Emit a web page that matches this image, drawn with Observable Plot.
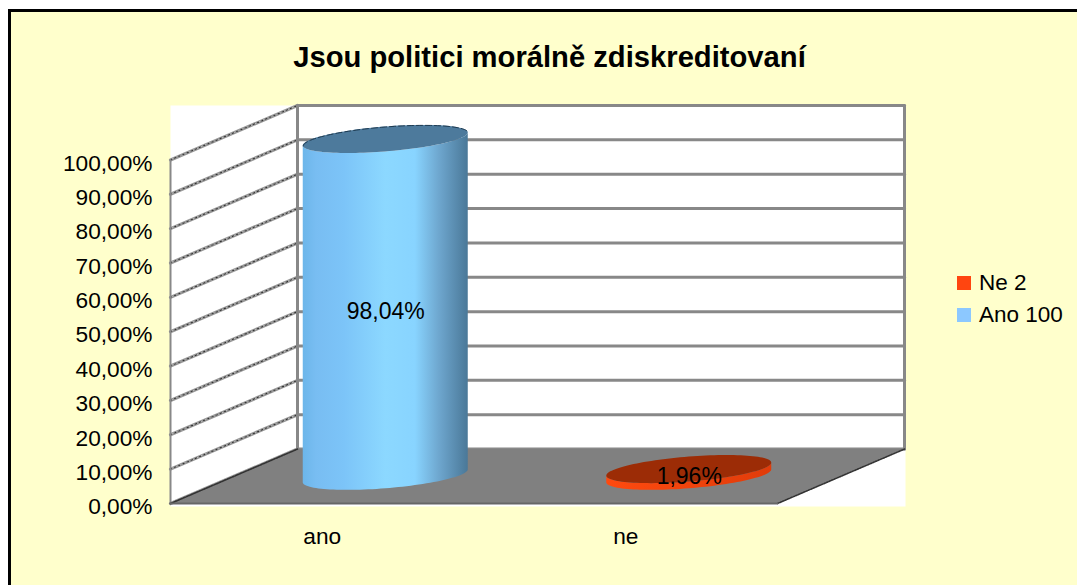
<!DOCTYPE html>
<html><head><meta charset="utf-8">
<script src="https://cdn.jsdelivr.net/npm/d3@7"></script>
<script src="https://cdn.jsdelivr.net/npm/@observablehq/plot@0.6"></script>
<style>
html,body{margin:0;padding:0;background:#fff;overflow:hidden}
#wrap{position:relative;width:1077px;height:585px;overflow:hidden;font-family:"Liberation Sans",Arial,sans-serif;color:#000}
#panel{position:absolute;left:8px;top:9px;width:1200px;height:700px;background:#ffffcc;border:3px solid #000;box-sizing:content-box}
#title{position:absolute;left:0;width:1099px;top:40px;text-align:center;font-weight:bold;font-size:29.2px;line-height:34px;white-space:nowrap}
#chart{position:absolute;left:0;top:0}
.leg{position:absolute;left:957px;font-size:22.5px;line-height:26px;white-space:nowrap}
.leg i{position:absolute;left:0;top:6px;width:14px;height:14px}
.leg span{position:absolute;left:22px;top:0}
</style></head><body>
<div id="wrap"><div id="panel"></div><div id="title">Jsou politici morálně zdiskreditovaní</div><div id="chart"></div>
<div class="leg" style="top:270px"><i style="background:#ff4510"></i><span>Ne 2</span></div>
<div class="leg" style="top:302px"><i style="background:#8cc8ff"></i><span>Ano 100</span></div>
</div>
<script>
const categories = ["ano", "ne"];
const values = [98.04, 1.96];
const valueLabels = ["98,04%", "1,96%"];
const yTicks = [0,10,20,30,40,50,60,70,80,90,100];

// oblique projection of the 3D chart box: depth 0 = front, depth 1 = back, in data units
const depthX = 127/303.5, depthY = 54.5/3.44;
const P = (x, y, d) => ({x: x + d*depthX, y: y + d*depthY});
// Cylinder footprint in data units
const halfW = 82.5/303.5, tilt = 6.5/3.44, cross = 12.5/3.44;
const angles = d3.range(0, 61).map(i => i/60*Math.PI);
function ell(i, v) {
  const c = P(i + .5, v, .5);
  return angles.map(t => ({
    x: c.x - halfW*Math.cos(t),
    upper: c.y - tilt*Math.cos(t) + cross*Math.sin(t),
    lower: c.y - tilt*Math.cos(t) - cross*Math.sin(t)
  }));
}
const walls = yTicks.map(v => [P(0,v,0), P(0,v,1)]);
const floor = [P(0,0,0), P(2,0,0), P(2,0,1), P(0,0,1)];
const line = (pts, o) => Plot.line(pts, {x:"x", y:"y", ...o});

const marks = [
  Plot.frame({fill:"#fff", stroke:"none"}),
  ...walls.map(w => line(w, {stroke:"#999", strokeWidth:3.2})),
  ...walls.map(w => line(w, {stroke:"#fff", strokeWidth:1, strokeDasharray:"2 2.5"})),
  ...walls.map(w => line(w, {stroke:"#333", strokeWidth:1.2, strokeDasharray:"1.5 3"})),
  ...yTicks.map(v => line([P(0,v,1), P(2,v,1)], {stroke:"#888", strokeWidth:3})),
  line([P(0,0,1), P(0,100,1)], {stroke:"#888", strokeWidth:3}),
  line([P(2,0,1), P(2,100,1)], {stroke:"#888", strokeWidth:3}),
  line([P(0,0,0), P(0,100,0)], {stroke:"#888", strokeWidth:2}),
  line(floor, {fill:"#808080", stroke:"none"}),
  line([P(0,0,0), P(0,0,1)], {stroke:"#333", strokeWidth:1.6, strokeDasharray:"1.6 1.2"}),
  line([P(2,0,0), P(2,0,1)], {stroke:"#333", strokeWidth:1.6, strokeDasharray:"1.6 1.2"}),
  line([P(0,0,0), P(2,0,0)], {stroke:"#666", strokeWidth:2}),
];
categories.forEach((c, i) => {
  const base = ell(i, 0), top = ell(i, values[i]);
  const body = base.map((b, k) => ({x:b.x, y1:b.lower, y2:top[k].lower}));
  marks.push(Plot.areaY(body, {x:"x", y1:"y1", y2:"y2", fill:`url(#grad${i})`, curve:"linear"}));
  marks.push(Plot.areaY(top, {x:"x", y1:"lower", y2:"upper", fill: i ? "#9c2c06" : "#4d7a9c", curve:"linear"}));
  if (i === 0) marks.push(Plot.line(top, {x:"x", y:"upper", stroke:"#1e3a50", strokeWidth:1, strokeDasharray:"6 3"}));
  const c2 = P(i+.5, values[i]/2, .5);
  marks.push(Plot.text([valueLabels[i]], {x:()=>c2.x, y:()=>c2.y, text:d=>d, fontSize:23, dy:4, fill:"#000"}));
});
marks.push(
  Plot.axisY({ticks:yTicks, tickSize:0, tickPadding:18, dy:3.5, label:null, fontSize:22.7,
              tickFormat:d=>d3.format(".2f")(d).replace(".",",")+"%"}),
  Plot.axisX({ticks:categories.map((_, i)=>i+.5), tickSize:0, tickPadding:21, label:null, fontSize:22.7,
              tickFormat:d=>categories[d-.5]})
);

const chart = Plot.plot({
  width:1077, height:585,
  marginLeft:170, marginRight:1077-905, marginTop:105, marginBottom:585-506,
  style:{background:"transparent", fontFamily:'"Liberation Sans",Arial,sans-serif', color:"#000", overflow:"visible"},
  x:{type:"linear", domain:[0, 735/303.5]},
  y:{type:"linear", domain:[-3/3.44, 100+depthY]},
  marks
});
const stops = [
  [[0,"#6cb6ea"],[.08,"#78bdf2"],[.25,"#7cc4f8"],[.5,"#8cd8ff"],[.68,"#88d4ff"],[.82,"#6fa8d0"],[1,"#4a7898"]],
  [[0,"#ff4a0f"],[1,"#e03c0a"]]
];
const defs = d3.select(chart).insert("defs",":first-child");
stops.forEach((s,i)=>{
  const g = defs.append("linearGradient").attr("id","grad"+i).attr("x1",0).attr("x2",1).attr("y1",0).attr("y2",0);
  s.forEach(([o,c])=>g.append("stop").attr("offset",o).attr("stop-color",c));
});
document.getElementById("chart").append(chart);
</script></body></html>
